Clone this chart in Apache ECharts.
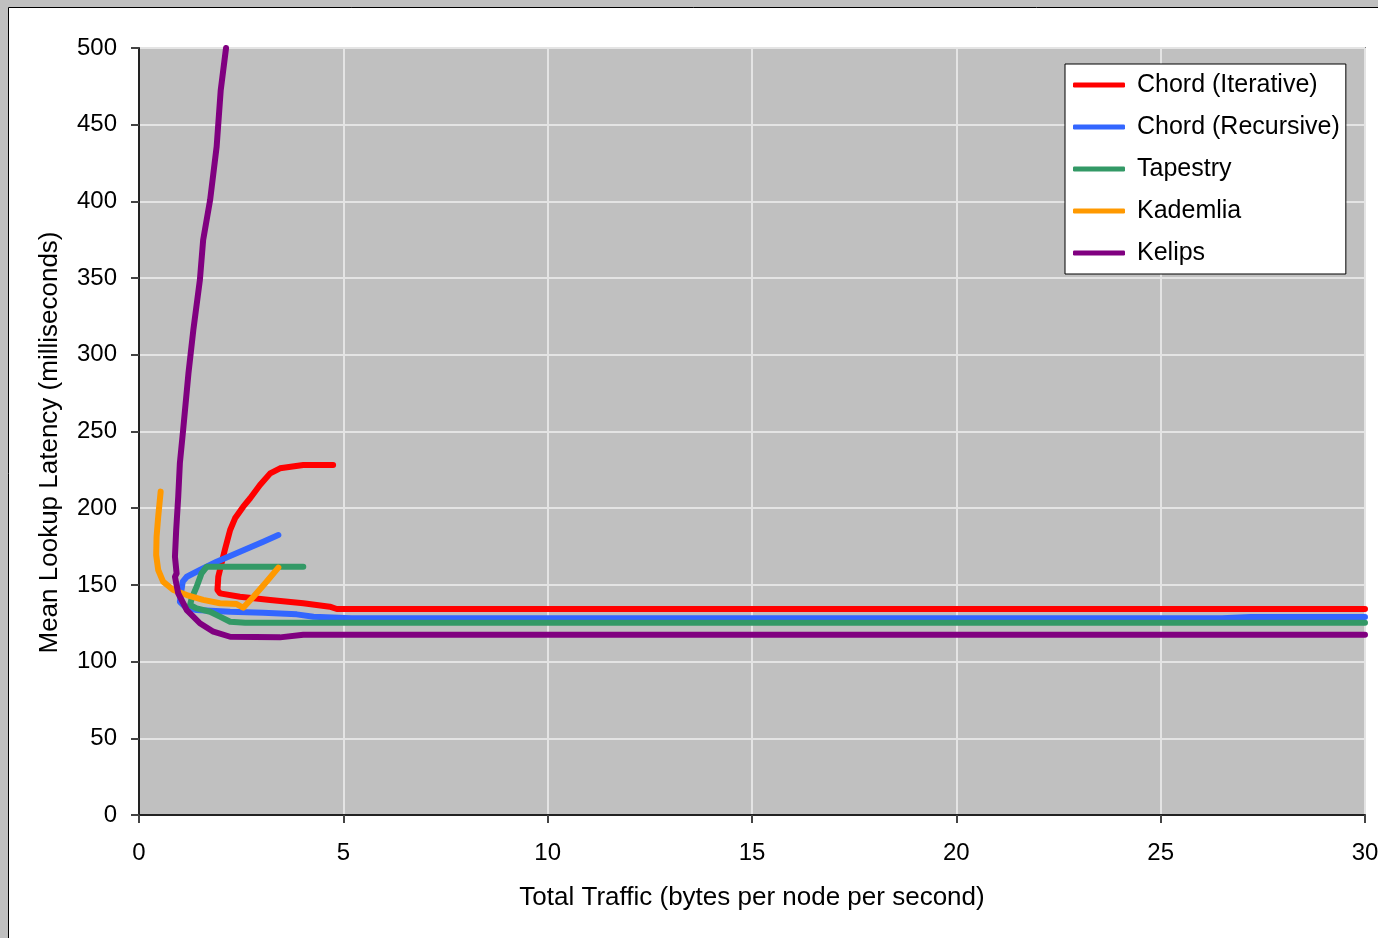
<!DOCTYPE html>
<html>
<head>
<meta charset="utf-8">
<script src="https://cdn.jsdelivr.net/npm/echarts@6/dist/echarts.min.js"></script>
<style>
html,body{margin:0;padding:0;background:#c0c0c0;}
#chart{width:1378px;height:938px;}
</style>
</head>
<body>
<div id="chart"></div>
<script>
const seriesNames = ['Chord (Iterative)', 'Chord (Recursive)', 'Tapestry', 'Kademlia', 'Kelips'];
const seriesColors = ['#ff0000', '#3366ff', '#339966', '#ff9900', '#800080'];

const chordIterative = [
  [4.75, 228.2], [4.02, 228.2], [3.45, 226.0], [3.21, 222.7], [2.96, 215.1], [2.72, 206.5],
  [2.55, 201.0], [2.35, 193.4], [2.23, 185.8], [2.10, 172.8], [2.02, 164.1], [1.94, 155.3],
  [1.92, 146.7], [1.98, 144.5], [2.47, 142.3], [3.21, 140.2], [4.02, 138.0], [4.67, 135.8],
  [4.84, 134.3], [30, 134.3]
];
const chordRecursive = [
  [3.41, 182.5], [3.04, 178.2], [2.47, 171.6], [1.90, 165.1], [1.49, 159.7], [1.17, 155.3],
  [1.07, 152.1], [1.04, 146.7], [1.00, 139.0], [1.13, 135.8], [1.41, 133.6], [2.23, 132.5],
  [3.04, 131.9], [3.86, 130.8], [4.27, 129.3], [5.2, 128.3], [26.5, 128.3], [27.2, 129.1], [30, 129.1]
];
const tapestry = [
  [4.02, 161.9], [1.66, 161.9], [1.53, 157.5], [1.41, 148.8], [1.29, 141.3], [1.25, 136.9],
  [1.41, 134.7], [1.74, 132.5], [1.98, 129.3], [2.23, 126.0], [2.6, 125.3], [30, 125.3]
];
const kademlia = [
  [0.53, 210.8], [0.47, 194.5], [0.43, 181.4], [0.42, 169.5], [0.47, 159.7], [0.59, 152.1],
  [0.84, 146.7], [1.17, 143.4], [1.57, 140.2], [1.98, 138.0], [2.39, 137.5], [2.55, 135.1],
  [2.80, 142.3], [3.12, 152.1], [3.41, 161.3]
];
const kelips = [
  [2.13, 500], [2.00, 472.6], [1.90, 435.7], [1.74, 400.9], [1.57, 374.8], [1.49, 348.8],
  [1.33, 316.2], [1.21, 287.9], [1.08, 251.0], [1.00, 229.3], [0.96, 207.5], [0.91, 185.8],
  [0.88, 168.4], [0.92, 157.5], [0.88, 155.3], [0.96, 144.5], [1.17, 133.6], [1.49, 125.0],
  [1.82, 119.5], [2.23, 116.2], [3.45, 115.8], [4.02, 117.5], [30, 117.5]
];
const seriesData = [chordIterative, chordRecursive, tapestry, kademlia, kelips];

const xTicks = {min: 0, max: 30, interval: 5};
const yTicks = {min: 0, max: 500, interval: 50};

const FONT = '"Liberation Sans", Arial, sans-serif';

const chart = echarts.init(document.getElementById('chart'), null, {renderer: 'canvas'});
chart.setOption({
  backgroundColor: '#c0c0c0',
  animation: false,
  graphic: [{
    type: 'rect', z: -10, silent: true,
    shape: {x: 8.5, y: 7.5, width: 1400, height: 1000},
    style: {fill: '#ffffff', stroke: '#000000', lineWidth: 1}
  }],
  grid: {
    left: 139, right: 13, top: 48, bottom: 123,
    outerBoundsMode: 'none', containLabel: false,
    show: true, backgroundColor: '#c0c0c0', borderColor: '#808080', borderWidth: 2
  },
  legend: {
    orient: 'vertical', left: 1065, top: 64,
    backgroundColor: '#ffffff', borderColor: '#000000', borderWidth: 1, borderRadius: 0,
    padding: [6, 6, 6, 8],
    itemWidth: 52, itemHeight: 5, itemGap: 12,
    icon: 'roundRect',
    textStyle: {fontFamily: FONT, fontSize: 25, color: '#000', lineHeight: 30, padding: [0, 0, 0, 7]},
    data: seriesNames
  },
  xAxis: {
    type: 'value', min: xTicks.min, max: xTicks.max, interval: xTicks.interval,
    name: 'Total Traffic (bytes per node per second)', nameLocation: 'middle', nameGap: 70,
    nameTextStyle: {fontFamily: FONT, fontSize: 26, color: '#000'},
    axisLine: {show: true, onZero: false, lineStyle: {color: '#222', width: 2}},
    axisTick: {show: true, length: 8, lineStyle: {color: '#444', width: 2}},
    axisLabel: {fontFamily: FONT, fontSize: 24, color: '#000', margin: 26},
    splitLine: {show: true, lineStyle: {color: '#e4e4e4', width: 2}}
  },
  yAxis: {
    type: 'value', min: yTicks.min, max: yTicks.max, interval: yTicks.interval,
    name: 'Mean Lookup Latency (milliseconds)', nameLocation: 'middle', nameGap: 76,
    nameTextStyle: {fontFamily: FONT, fontSize: 26, color: '#000', padding: [0, 22, 0, 0]},
    axisLine: {show: true, onZero: false, lineStyle: {color: '#222', width: 2}},
    axisTick: {show: true, length: 8, lineStyle: {color: '#444', width: 2}},
    axisLabel: {fontFamily: FONT, fontSize: 24, color: '#000', margin: 22},
    splitLine: {show: true, lineStyle: {color: '#e4e4e4', width: 2}}
  },
  series: seriesNames.map((n, i) => ({
    name: n, type: 'line', data: seriesData[i], showSymbol: false, symbol: 'none',
    smooth: false, clip: true,
    lineStyle: {color: seriesColors[i], width: 6, join: 'round', cap: 'round'},
    itemStyle: {color: seriesColors[i]}
  }))
});
</script>
</body>
</html>
